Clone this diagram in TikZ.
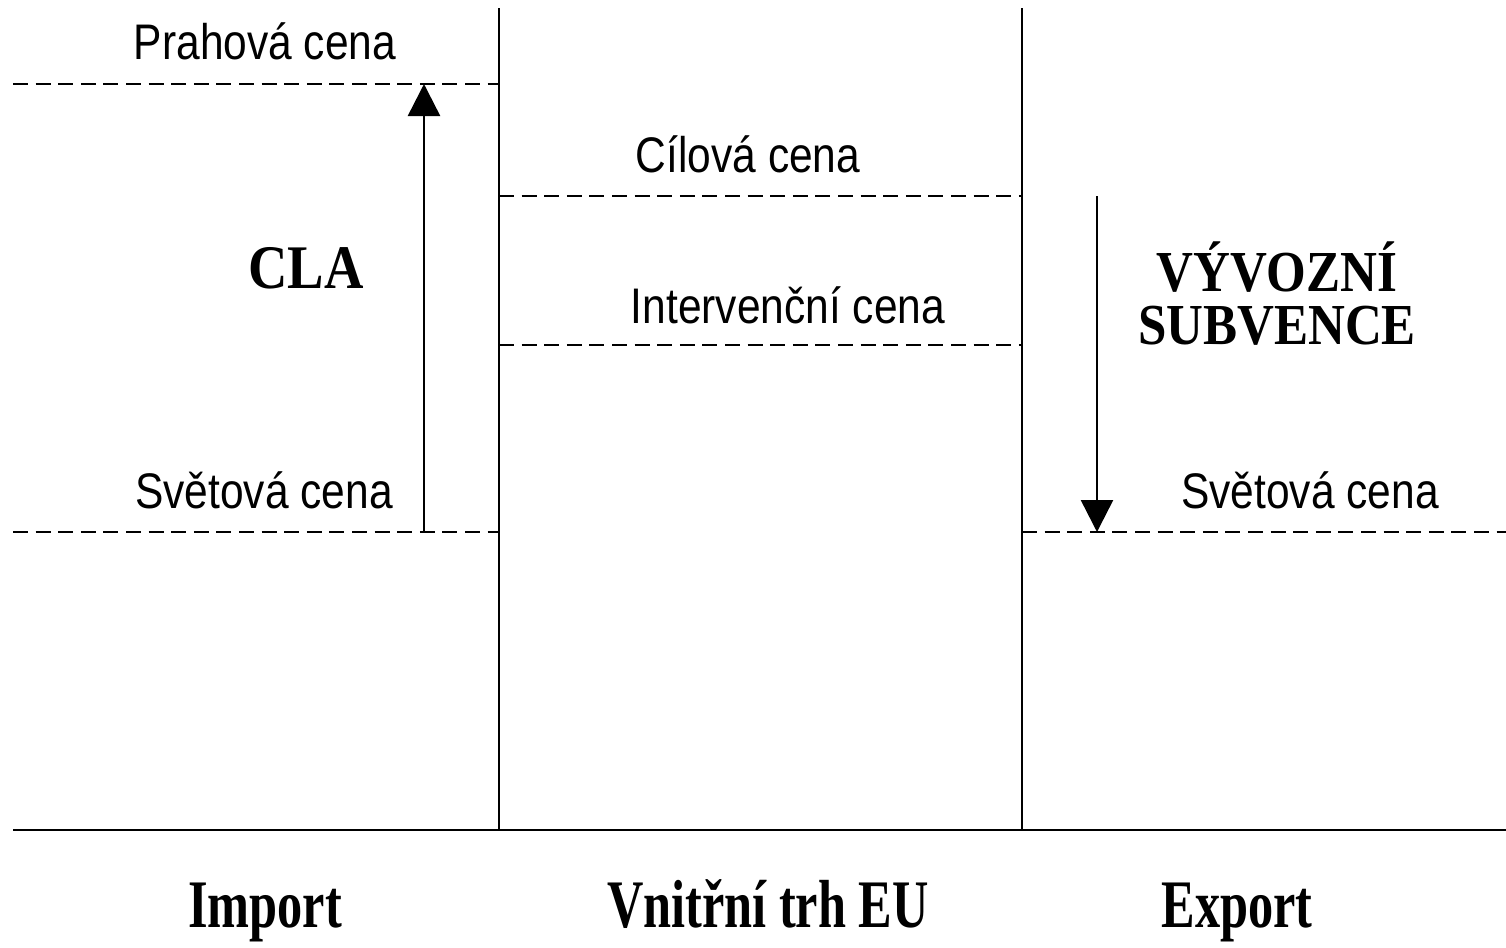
\documentclass[tikz,border=0pt]{standalone}
\usepackage{fontspec}
\newfontfamily\cenafont[FakeStretch=0.85]{Liberation Sans}
\newfontfamily\osafont[FakeStretch=0.74]{Liberation Serif}
\newfontfamily\popisfont[FakeStretch=0.88]{Liberation Serif}
\usetikzlibrary{arrows.meta}

\begin{document}
\begin{tikzpicture}[x=0.5pt,y=-0.5pt,line width=1.25pt,
  cena node/.style={anchor=base,inner sep=0pt,font=\cenafont\fontsize{25}{30}\selectfont},
  osa node/.style={anchor=base,inner sep=0pt,font=\osafont\bfseries\fontsize{34}{40}\selectfont},
  popis node/.style={inner sep=0pt,align=center,font=\popisfont\bfseries\fontsize{29}{26.5}\selectfont},
  hladina/.style={dash pattern=on 7.5pt off 3.8pt},
  posun/.style={-{Triangle[length=16pt,width=16pt]}}]

  \useasboundingbox (0,0) rectangle (1506,948);

  % osy a deleni trhu
  \coordinate (osaL) at (13,830);
  \coordinate (osaR) at (1506,830);
  \coordinate (hr1) at (499,8);
  \coordinate (hr1b) at (499,830);
  \coordinate (hr2) at (1022,8);
  \coordinate (hr2b) at (1022,830);
  \draw (osaL) -- (osaR);
  \draw (hr1) -- (hr1b);
  \draw (hr2) -- (hr2b);

  % cenove hladiny
  \coordinate (prahL) at (13,84);
  \coordinate (prahR) at (499,84);
  \coordinate (cilL) at (499,196);
  \coordinate (cilR) at (1022,196);
  \coordinate (intL) at (499,345);
  \coordinate (intR) at (1022,345);
  \coordinate (svL1) at (13,532);
  \coordinate (svR1) at (499,532);
  \coordinate (svL2) at (1022,532);
  \coordinate (svR2) at (1506,532);
  \path[hladina]
    (prahL) edge (prahR)
    (cilL) edge (cilR)
    (intL) edge (intR)
    (svL1) edge (svR1)
    (svL2) edge (svR2);

  \node[cena node] (prahova) at (265,59) {Prahová cena};
  \node[cena node] (cilova) at (748,172) {Cílová cena};
  \node[cena node] (intervencni) at (788,323) {Intervenční cena};
  \node[cena node] (svetova1) at (264,508) {Světová cena};
  \node[cena node] (svetova2) at (1310,508) {Světová cena};

  % clo a subvence
  \coordinate (clo1) at (424,532);
  \coordinate (clo2) at (424,84);
  \coordinate (sub1) at (1097,196);
  \coordinate (sub2) at (1097,532);
  \draw[posun] (clo1) -- (clo2);
  \draw[posun] (sub1) -- (sub2);

  \node[popis node,anchor=base,font=\popisfont\bfseries\fontsize{31}{31}\selectfont] (cla) at (306,288) {CLA};
  \node[popis node] (subvence) at (1277,294) {VÝVOZNÍ\\SUBVENCE};

  % trhy
  \node[osa node] (import) at (265,927) {Import};
  \node[osa node] (trh) at (768,927) {Vnitřní trh EU};
  \node[osa node] (export) at (1237,927) {Export};

\end{tikzpicture}
\end{document}
